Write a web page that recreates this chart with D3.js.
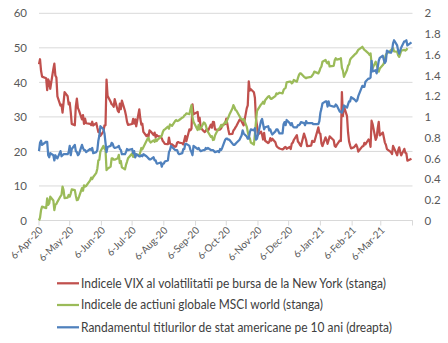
<!DOCTYPE html>
<html><head><meta charset="utf-8">
<script src="https://cdn.jsdelivr.net/npm/d3@7"></script>
<style>body{margin:0;background:#fff}svg{display:block}text{font-family:Lato,"Open Sans",sans-serif}</style>
</head><body><svg id="c" width="448" height="343"></svg>
<script>
const dates = [
"2020-04-06","2020-04-07","2020-04-08","2020-04-09","2020-04-13","2020-04-14","2020-04-15","2020-04-16","2020-04-17","2020-04-20","2020-04-21","2020-04-22","2020-04-23","2020-04-24","2020-04-27","2020-04-28","2020-04-29","2020-04-30",
"2020-05-01","2020-05-04","2020-05-05","2020-05-06","2020-05-07","2020-05-08","2020-05-11","2020-05-12","2020-05-13","2020-05-14","2020-05-15","2020-05-18","2020-05-19","2020-05-20","2020-05-21","2020-05-22","2020-05-26","2020-05-27","2020-05-28","2020-05-29",
"2020-06-01","2020-06-02","2020-06-03","2020-06-04","2020-06-05","2020-06-08","2020-06-09","2020-06-10","2020-06-11","2020-06-12","2020-06-15","2020-06-16","2020-06-17","2020-06-18","2020-06-19","2020-06-22","2020-06-23","2020-06-24","2020-06-25","2020-06-26","2020-06-29","2020-06-30",
"2020-07-01","2020-07-02","2020-07-06","2020-07-07","2020-07-08","2020-07-09","2020-07-10","2020-07-13","2020-07-14","2020-07-15","2020-07-16","2020-07-17","2020-07-20","2020-07-21","2020-07-22","2020-07-23","2020-07-24","2020-07-27","2020-07-28","2020-07-29","2020-07-30","2020-07-31",
"2020-08-03","2020-08-04","2020-08-05","2020-08-06","2020-08-07","2020-08-10","2020-08-11","2020-08-12","2020-08-13","2020-08-14","2020-08-17","2020-08-18","2020-08-19","2020-08-20","2020-08-21","2020-08-24","2020-08-25","2020-08-26","2020-08-27","2020-08-28","2020-08-31",
"2020-09-01","2020-09-02","2020-09-03","2020-09-04","2020-09-08","2020-09-09","2020-09-10","2020-09-11","2020-09-14","2020-09-15","2020-09-16","2020-09-17","2020-09-18","2020-09-21","2020-09-22","2020-09-23","2020-09-24","2020-09-25","2020-09-28","2020-09-29","2020-09-30",
"2020-10-01","2020-10-02","2020-10-05","2020-10-06","2020-10-07","2020-10-08","2020-10-09","2020-10-12","2020-10-13","2020-10-14","2020-10-15","2020-10-16","2020-10-19","2020-10-20","2020-10-21","2020-10-22","2020-10-23","2020-10-26","2020-10-27","2020-10-28","2020-10-29","2020-10-30",
"2020-11-02","2020-11-03","2020-11-04","2020-11-05","2020-11-06","2020-11-09","2020-11-10","2020-11-11","2020-11-12","2020-11-13","2020-11-16","2020-11-17","2020-11-18","2020-11-19","2020-11-20","2020-11-23","2020-11-24","2020-11-25","2020-11-27","2020-11-30",
"2020-12-01","2020-12-02","2020-12-03","2020-12-04","2020-12-07","2020-12-08","2020-12-09","2020-12-10","2020-12-11","2020-12-14","2020-12-15","2020-12-16","2020-12-17","2020-12-18","2020-12-21","2020-12-22","2020-12-23","2020-12-24","2020-12-28","2020-12-29","2020-12-30","2020-12-31",
"2021-01-04","2021-01-05","2021-01-06","2021-01-07","2021-01-08","2021-01-11","2021-01-12","2021-01-13","2021-01-14","2021-01-15","2021-01-19","2021-01-20","2021-01-21","2021-01-22","2021-01-25","2021-01-26","2021-01-27","2021-01-28","2021-01-29",
"2021-02-01","2021-02-02","2021-02-03","2021-02-04","2021-02-05","2021-02-08","2021-02-09","2021-02-10","2021-02-11","2021-02-12","2021-02-16","2021-02-17","2021-02-18","2021-02-19","2021-02-22","2021-02-23","2021-02-24","2021-02-25","2021-02-26",
"2021-03-01","2021-03-02","2021-03-03","2021-03-04","2021-03-05","2021-03-08","2021-03-09","2021-03-10","2021-03-11","2021-03-12","2021-03-15","2021-03-16","2021-03-17","2021-03-18","2021-03-19","2021-03-22","2021-03-23","2021-03-24","2021-03-25","2021-03-26","2021-03-29","2021-03-30","2021-03-31",
"2021-04-01","2021-04-05"];

const vix = [
45.24,46.70,43.35,41.67,41.17,37.76,40.84,40.11,38.15,43.83,45.41,41.98,41.38,35.93,33.29,33.57,31.23,34.15,
37.19,35.97,33.61,34.12,31.44,27.98,27.57,33.04,35.28,32.61,31.89,29.30,30.53,27.99,29.53,28.16,28.01,27.62,28.59,27.51,
28.23,26.84,25.66,25.81,24.52,25.81,27.57,27.57,40.79,36.09,34.40,33.67,33.47,32.94,35.12,31.77,31.37,33.84,32.22,34.73,31.78,30.43,
28.62,27.68,27.94,29.43,28.08,29.26,27.29,32.19,29.52,27.76,28.00,25.68,24.46,24.84,24.32,26.08,25.84,24.74,25.44,24.10,24.76,24.46,
24.28,23.76,22.99,22.65,22.21,22.13,24.03,22.28,22.13,22.05,21.35,21.51,22.54,22.72,22.54,22.37,22.03,23.27,24.47,22.96,26.41,
26.12,26.57,33.60,30.75,31.46,28.81,29.71,26.87,25.85,25.59,26.04,26.46,25.83,27.78,26.86,28.58,28.51,26.38,26.19,26.27,26.37,
26.70,27.63,27.96,29.48,28.06,26.36,25.00,25.07,26.07,26.40,26.97,27.41,29.18,29.35,28.65,28.11,27.55,32.46,33.35,40.28,37.59,38.02,
37.13,35.55,29.57,27.58,24.86,25.75,24.80,23.45,25.35,23.10,22.45,22.71,23.84,23.11,23.70,22.66,21.64,21.25,20.84,20.57,
20.77,21.17,21.28,20.79,21.30,20.68,22.27,22.52,23.31,24.72,22.89,22.50,21.93,21.57,25.16,24.23,23.31,21.53,21.70,23.08,22.77,22.75,
26.97,25.34,25.07,22.37,21.56,24.08,23.33,22.21,23.25,24.34,23.24,21.58,21.32,21.91,23.19,23.02,37.21,30.21,33.09,
30.24,25.56,22.91,21.77,20.87,21.24,21.63,21.99,21.25,19.97,21.46,21.50,22.49,22.05,23.45,23.11,21.34,28.89,27.95,
23.35,24.10,26.67,28.57,24.66,25.47,24.03,22.56,21.91,20.69,20.03,19.79,19.23,21.58,20.95,18.88,20.30,21.20,19.81,18.86,20.74,19.61,19.40,
17.33,17.91];

const msci = [
0,0.8,3.0,4.0,3.6,6.4,4.5,5.0,6.9,5.8,3.0,4.6,4.8,5.4,7.0,7.4,9.8,8.8,
6.5,6.6,7.4,6.9,7.8,9.0,8.8,7.2,5.9,6.0,6.8,9.4,8.6,10.2,9.8,10.0,11.6,12.4,12.0,12.6,
13.8,15.0,17.4,17.6,20.0,21.6,20.8,20.4,14.6,15.0,15.6,18.0,18.0,17.6,17.6,18.0,19.0,16.6,17.2,15.4,14.8,16.1,
17.0,18.0,19.4,18.4,19.0,18.4,19.2,18.8,19.8,21.0,20.6,21.2,23.0,23.6,24.0,23.0,22.6,23.2,22.8,23.6,23.0,23.4,
24.2,24.6,25.6,26.2,26.4,27.2,26.6,27.8,27.6,27.4,28.8,29.1,28.8,28.9,29.1,29.8,29.9,30.4,30.6,31.0,30.8,
32.2,33.4,30.0,28.6,26.2,27.7,26.4,26.6,28.4,28.2,27.6,26.4,25.7,24.2,24.4,23.3,23.4,24.6,26.4,26.6,27.0,
27.7,27.2,28.6,28.2,29.2,29.8,30.6,32.4,33.4,32.8,32.0,31.8,30.2,29.6,29.4,29.1,29.4,27.2,25.7,24.3,23.8,22.6,
22.0,25.0,28.6,31.6,32.2,33.6,33.9,34.4,33.8,34.8,35.9,36.0,35.4,35.2,35.4,36.0,36.8,36.6,37.0,36.8,
37.8,38.2,38.4,40.0,40.2,40.2,39.7,40.0,40.7,40.2,41.2,42.1,42.6,42.6,41.6,41.4,41.2,41.4,41.6,42.0,42.4,43.1,
42.6,43.2,44.1,44.6,46.0,46.5,45.8,45.5,46.0,44.6,44.8,46.4,47.0,46.6,46.8,47.0,44.2,43.4,41.6,
43.6,44.8,45.2,46.5,47.0,47.9,48.2,48.4,48.9,49.4,50.3,49.8,49.4,49.2,48.4,48.0,48.4,45.5,44.1,
46.0,45.0,44.0,43.1,44.0,45.0,45.5,46.8,48.0,48.4,49.0,49.4,49.6,49.9,49.0,48.9,47.8,47.4,48.2,49.2,49.4,49.2,49.4,
49.9,null];

const ust10 = [
0.67,0.75,0.77,0.73,0.76,0.76,0.63,0.61,0.65,0.63,0.58,0.63,0.61,0.60,0.67,0.62,0.63,0.64,
0.64,0.64,0.66,0.72,0.63,0.69,0.73,0.67,0.66,0.63,0.64,0.73,0.70,0.68,0.68,0.66,0.69,0.68,0.70,0.65,
0.66,0.68,0.77,0.82,0.91,0.88,0.84,0.75,0.66,0.71,0.72,0.75,0.74,0.71,0.70,0.71,0.72,0.69,0.68,0.64,0.64,0.66,
0.69,0.68,0.69,0.65,0.67,0.61,0.64,0.62,0.62,0.63,0.62,0.64,0.62,0.61,0.60,0.59,0.59,0.61,0.58,0.58,0.55,0.55,
0.56,0.52,0.55,0.55,0.57,0.58,0.66,0.68,0.72,0.71,0.68,0.68,0.68,0.65,0.64,0.65,0.69,0.69,0.74,0.74,0.72,
0.68,0.66,0.63,0.72,0.69,0.70,0.68,0.67,0.68,0.68,0.70,0.69,0.70,0.68,0.68,0.68,0.67,0.66,0.67,0.66,0.69,
0.68,0.70,0.78,0.79,0.79,0.78,0.78,null,0.73,0.73,0.74,0.75,0.78,0.80,0.82,0.87,0.84,0.81,0.79,0.79,0.85,0.88,
0.87,0.89,0.78,0.79,0.83,0.96,0.98,null,0.88,0.90,0.91,0.87,0.88,0.85,0.83,0.86,0.88,0.88,0.84,0.84,
0.93,0.95,0.92,0.97,0.94,0.92,0.94,0.91,0.90,0.90,0.92,0.92,0.93,0.95,0.94,0.92,0.96,0.94,0.94,0.94,0.93,0.93,
0.93,0.96,1.04,1.08,1.13,1.15,1.15,1.10,1.15,1.11,1.10,1.10,1.12,1.11,1.05,1.05,1.04,1.07,1.11,
1.09,1.12,1.15,1.15,1.19,1.17,1.16,1.15,1.16,1.20,1.30,1.29,1.29,1.34,1.37,1.37,1.38,1.54,1.44,
1.45,1.42,1.48,1.54,1.57,1.59,1.55,1.52,1.54,1.64,1.62,1.62,1.64,1.71,1.74,1.69,1.64,1.61,1.64,1.67,1.73,1.73,1.74,
1.69,1.72];

const leftTicks = [0,10,20,30,40,50,60];
const rightTicks = [0,0.2,0.4,0.6,0.8,1,1.2,1.4,1.6,1.8,2];
const xTickDates = ["2020-04-06","2020-05-06","2020-06-06","2020-07-06","2020-08-06","2020-09-06","2020-10-06","2020-11-06","2020-12-06","2021-01-06","2021-02-06","2021-03-06"];
const xDomain = ["2020-04-06","2021-04-06"];
const seriesNames = ["Indicele VIX al volatilitatii pe bursa de la New York (stanga)","Indicele de actiuni globale MSCI world (stanga)","Randamentul titlurilor de stat americane pe 10 ani (dreapta)"];
const seriesColors = ["#C0504D","#9BBB59","#4F81BD"];

const parse = d3.timeParse("%Y-%m-%d");
const svg = d3.select("#c");
const L = 39, R = 412.5, T = 13.3, B = 220.5;
const x = d3.scaleTime().domain(xDomain.map(parse)).range([L, R]);
const yL = d3.scaleLinear().domain([0, 60]).range([B, T]);
const yR = d3.scaleLinear().domain([0, 2]).range([B, T]);
const txt = "#595959";

svg.append("g").selectAll("line").data(leftTicks).join("line")
  .attr("x1", L).attr("x2", R).attr("y1", d => yL(d)).attr("y2", d => yL(d))
  .attr("stroke", "#D9D9D9").attr("stroke-width", 1);

const ga = svg.append("g").attr("transform", `translate(${L},0)`)
  .call(d3.axisLeft(yL).tickValues(leftTicks).tickSize(0).tickPadding(12));
ga.select(".domain").remove();
ga.selectAll("text").attr("fill", txt).style("font-size", "11.5px").style("font-family", "Lato");

const gr = svg.append("g").attr("transform", `translate(${R},0)`)
  .call(d3.axisRight(yR).tickValues(rightTicks).tickSize(0).tickPadding(12).tickFormat(d3.format(".1~f")));
gr.select(".domain").remove();
gr.selectAll("text").attr("fill", txt).style("font-size", "11.5px").style("font-family", "Lato");

const tickAll = xTickDates.map(parse).concat([parse(xDomain[1])]);
const gx = svg.append("g").attr("transform", `translate(0,${B})`);
gx.append("line").attr("x1", L).attr("x2", R).attr("stroke", "#D9D9D9");
gx.selectAll("line.t").data(tickAll).join("line").attr("class", "t")
  .attr("x1", d => x(d)).attr("x2", d => x(d)).attr("y1", 0).attr("y2", 5).attr("stroke", "#D9D9D9");
const fmt = d3.timeFormat("%-d-%b-%y");
gx.selectAll("text").data(xTickDates.map(parse)).join("text")
  .attr("transform", d => `translate(${x(d) + 2},${8}) rotate(-45)`)
  .attr("text-anchor", "end").attr("dy", "0.35em")
  .attr("fill", txt).style("font-size", "10px").text(d => fmt(d));

const pts = vals => dates.map((d, i) => [parse(d), vals[i]]).filter(p => p[1] !== null);
const lineL = d3.line().x(p => x(p[0])).y(p => yL(p[1]));
const lineR = d3.line().x(p => x(p[0])).y(p => yR(p[1]));
svg.append("path").attr("d", lineL(pts(vix))).attr("fill", "none").attr("stroke", seriesColors[0]).attr("stroke-width", 2.25).attr("stroke-linejoin", "round");
svg.append("path").attr("d", lineL(pts(msci))).attr("fill", "none").attr("stroke", seriesColors[1]).attr("stroke-width", 2.25).attr("stroke-linejoin", "round");
svg.append("path").attr("d", lineR(pts(ust10))).attr("fill", "none").attr("stroke", seriesColors[2]).attr("stroke-width", 2.25).attr("stroke-linejoin", "round");

const legY = [283.3, 305, 327.3];
const legW = [305, 242, 311];
const lg = svg.append("g");
seriesNames.forEach((n, i) => {
  lg.append("line").attr("x1", 57).attr("x2", 79).attr("y1", legY[i]).attr("y2", legY[i])
    .attr("stroke", seriesColors[i]).attr("stroke-width", 2.25);
  lg.append("text").attr("x", 81).attr("y", legY[i]).attr("dy", "0.35em")
    .attr("fill", "#404040").style("font-size", "12.5px")
    .attr("textLength", legW[i]).attr("lengthAdjust", "spacingAndGlyphs").text(n);
});
</script></body></html>
